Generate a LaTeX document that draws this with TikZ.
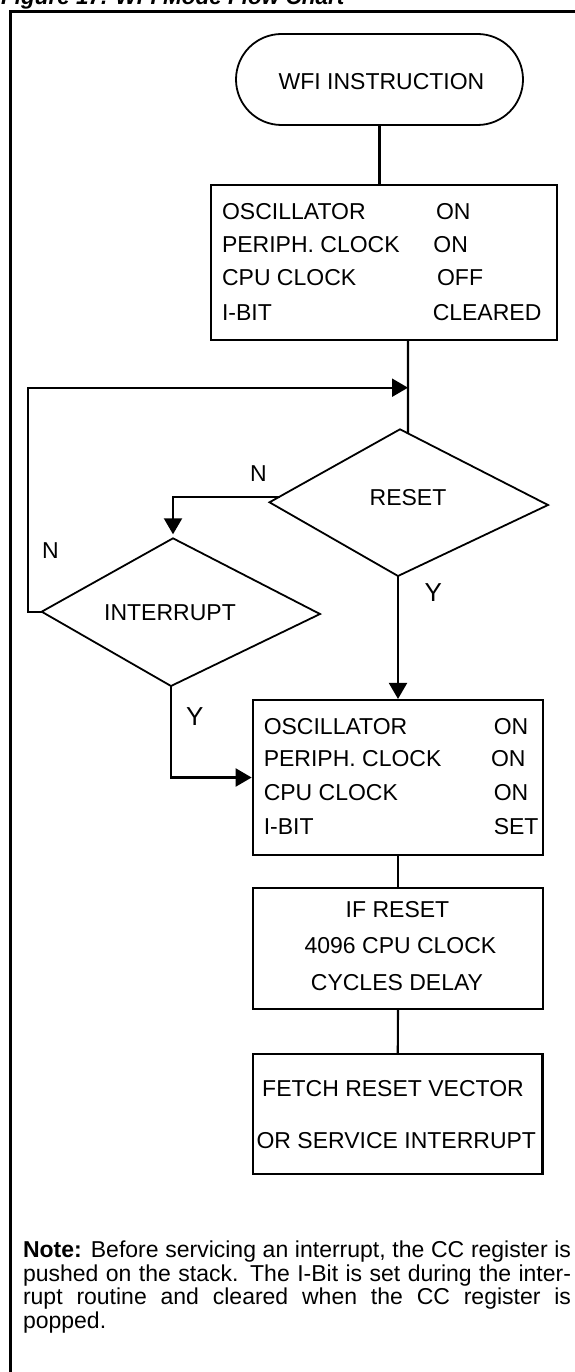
\documentclass[tikz,border=0pt]{standalone}
\usepackage{fontspec}
\setmainfont{Liberation Sans}
\usetikzlibrary{arrows.meta,calc}
\begin{document}
\begin{tikzpicture}[x=1pt,y=-1pt,line width=2.1pt,
  box/.style={draw, inner sep=0pt},
  txt/.style={inner sep=0pt, anchor=base west, font=\fontsize{23}{27}\selectfont},
  ctxt/.style={inner sep=0pt, anchor=base, font=\fontsize{23}{27}\selectfont},
  ylbl/.style={inner sep=0pt, anchor=base west, font=\fontsize{26}{30}\selectfont},
  notetxt/.style={inner sep=0pt, anchor=base west, font=\fontsize{23}{27}\selectfont},
  arr/.style={-{Triangle[length=16pt,width=18pt]}}]
\useasboundingbox (0,0) rectangle (575,1372);
\fill[white] (0,0) rectangle (575,1372);
% title (cut by top edge) and frame
\node[inner sep=0pt, anchor=base west, font=\bfseries\itshape\fontsize{22.5}{26}\selectfont] (title) at (0,5) {Figure 17. WFI Mode Flow Chart};
\draw[line width=2.4pt] (10.5,1390) -- (10.5,11.7) -- (590,11.7);
% start terminal
\node[draw, line width=1.8pt, rounded corners=45.5pt, minimum width=287pt, minimum height=91pt, inner sep=0pt] (term) at (379.5,79.5) {};
\node[ctxt] (termtxt) at (381.5,90) {WFI INSTRUCTION};
% box 1
\node[box, minimum width=346pt, minimum height=155pt] (box1) at (384,262.5) {};
\node[txt] (b1a) at (221,220) {OSCILLATOR};
\node[txt] (b1b) at (221,252.3) {PERIPH. CLOCK};
\node[txt] (b1c) at (221,285.7) {CPU CLOCK};
\node[txt] (b1d) at (221,320) {I-BIT};
\node[txt] (b1e) at (435,220) {ON};
\node[txt] (b1f) at (432.3,252.3) {ON};
\node[txt] (b1g) at (436,285.7) {OFF};
\node[txt] (b1h) at (431.7,320) {CLEARED};
% RESET diamond
\coordinate (rT) at (400,429.3);
\coordinate (rR) at (548,505);
\coordinate (rB) at (398,576);
\coordinate (rL) at (269.5,502.3);
\draw[line width=1.8pt, line join=miter] (rT) -- (rR) -- (rB) -- (rL) -- cycle;
\node[ctxt] (reset) at (408,505) {RESET};
% INTERRUPT diamond
\coordinate (iT) at (173,538.3);
\coordinate (iR) at (320,614);
\coordinate (iB) at (171,686);
\coordinate (iL) at (41.7,611.7);
\draw[line width=1.8pt, line join=miter] (iT) -- (iR) -- (iB) -- (iL) -- cycle;
\node[ctxt] (intr) at (170,620) {INTERRUPT};
% box 2
\node[box, minimum width=290.6pt, minimum height=155pt] (box2) at (398,777.5) {};
\node[txt] (b2a) at (262.7,734.3) {OSCILLATOR};
\node[txt] (b2b) at (262.7,766.7) {PERIPH. CLOCK};
\node[txt] (b2c) at (262.7,800) {CPU CLOCK};
\node[txt] (b2d) at (262.7,834.3) {I-BIT};
\node[txt] (b2e) at (492.7,734.3) {ON};
\node[txt] (b2f) at (490,766.7) {ON};
\node[txt] (b2g) at (492.7,800) {ON};
\node[txt] (b2h) at (492.7,834.3) {SET};
% box 3
\node[box, minimum width=290.6pt, minimum height=120.7pt] (box3) at (398,948.65) {};
\node[ctxt] (b3a) at (397.5,917.7) {IF RESET};
\node[ctxt] (b3b) at (400.5,953.3) {4096 CPU CLOCK};
\node[ctxt] (b3c) at (397,990.7) {CYCLES DELAY};
% box 4
\node[box, minimum width=289.5pt, minimum height=119.7pt] (box4) at (397.75,1114.15) {};
\node[ctxt] (b4a) at (393,1096) {FETCH RESET VECTOR};
\node[ctxt] (b4b) at (396.3,1148.3) {OR SERVICE INTERRUPT};
% labels
\node[txt] (nres) at (249,481.7) {N};
\node[txt] (nint) at (41,558) {N};
\node[ylbl] (yres) at (423.5,601.7) {Y};
\node[ylbl] (yint) at (185,725) {Y};
% connectors
\coordinate (j) at (408,387.7);
\coordinate (rIn) at ($(rT)!0.054!(rR)$);
\coordinate (rNo) at ($(rL)!0.077!(rT)$);
\draw (term.south) -- (term.south |- box1.north);
\draw (box1.south -| j) -- (rIn);
\draw[arr] (iL) -- ++(-13.5,0) |- (j);
\draw[arr, shorten >=4pt] (rNo) -| (iT);
\draw[arr] (rB) -- (rB |- box2.north);
\draw[arr] (iB) |- (box2.west);
\draw (box2.south) -- (box3.north);
\draw (box3.south) -- (box4.north);
% note
\node[notetxt] (note1) at (22,1257.5) {\makebox[548pt][s]{\textbf{Note:} Before servicing an interrupt, the CC register is}};
\node[notetxt] (note2) at (22,1281) {\makebox[548pt][s]{pushed on the stack. The I-Bit is set during the inter-}};
\node[notetxt] (note3) at (22,1304.5) {\makebox[548pt][s]{rupt routine and cleared when the CC register is}};
\node[notetxt] (note4) at (22,1328) {popped.};
\end{tikzpicture}
\end{document}
